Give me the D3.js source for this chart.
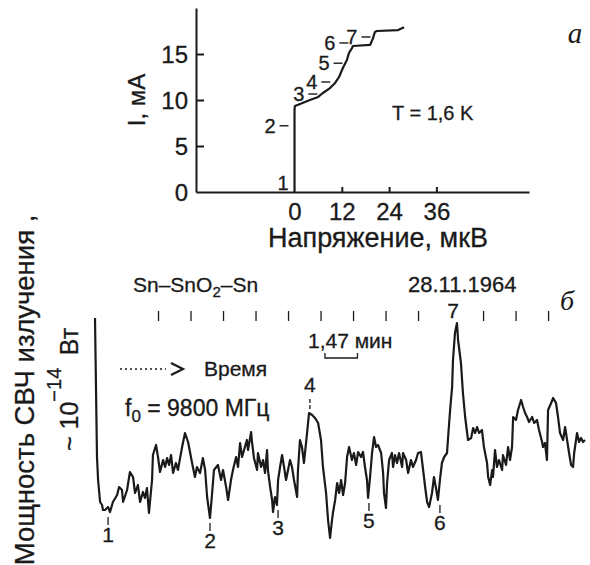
<!DOCTYPE html>
<html>
<head>
<meta charset="utf-8">
<script src="https://cdn.jsdelivr.net/npm/d3@7"></script>
<style>
  body { margin: 0; background: #fff; }
  svg { display: block; font-family: "Liberation Sans", Arial, Helvetica, sans-serif; }
  text { fill: #1a1a1a; stroke: #1a1a1a; stroke-width: 0.3px; }
</style>
</head>
<body>
<svg id="chart" width="590" height="565"></svg>
<script>
// ---- (a) current-voltage curve, T = 1.6 K
const ivVoltage = [0, 0, 0.1, 1.4, 3.9, 6.0, 7.2, 9.0, 10.3, 11.3, 12.3, 13.3, 13.8, 14.6, 14.8, 19.2, 19.9, 20.4, 20.9, 26.3, 27.8];
const ivCurrent = [0, 8.9, 9.35, 9.57, 10.0, 10.33, 10.76, 11.3, 11.85, 12.5, 13.5, 14.35, 15.1, 15.65, 15.87, 16.0, 16.7, 17.4, 17.5, 17.6, 17.9];
const ivTicksX = [0, 12, 24, 36];
const ivTicksY = [0, 5, 10, 15];
const ivLabels = ['1', '2', '3', '4', '5', '6', '7'];
const ivLabelVoltage = [0, 0, 7.3, 10.6, 13.7, 15.2, 20.8];
const ivLabelCurrent = [1.0, 7.2, 10.65, 11.96, 14.0, 16.2, 16.85];

// ---- (б) microwave power record, minutes vs 1e-14 W (arb.)
const traceTime = [
  0, 0.09, 0.14, 0.23, 0.32, 0.36, 0.45, 0.59, 0.68, 0.81,
  1.00, 1.09, 1.22, 1.27, 1.45, 1.58, 1.72, 1.81, 1.94, 2.04,
  2.17, 2.26, 2.35, 2.44, 2.58, 2.62, 2.76, 2.85, 2.94, 3.08,
  3.17, 3.26, 3.35, 3.44, 3.53, 3.66, 3.75, 3.94, 4.07, 4.21,
  4.39, 4.52, 4.61, 4.75, 4.88, 4.98, 5.07, 5.20, 5.29, 5.38,
  5.56, 5.70, 5.79, 5.93, 6.02, 6.15, 6.24, 6.38, 6.47, 6.56,
  6.65, 6.74, 6.87, 6.92, 7.06, 7.10, 7.19, 7.33, 7.37, 7.51,
  7.60, 7.69, 7.78, 7.82, 7.92, 8.01, 8.05, 8.14, 8.23, 8.28,
  8.37, 8.46, 8.55, 8.64, 8.73, 8.82, 8.91, 9.00, 9.14, 9.18,
  9.27, 9.36, 9.45, 9.59, 9.68, 9.82, 9.95, 10.09, 10.22, 10.31,
  10.45, 10.54, 10.63, 10.72, 10.76, 10.86, 10.95, 11.04, 11.13, 11.22,
  11.31, 11.40, 11.49, 11.62, 11.71, 11.81, 11.90, 12.03, 12.12, 12.21,
  12.30, 12.35, 12.44, 12.53, 12.62, 12.71, 12.80, 12.94, 13.03, 13.07,
  13.16, 13.21, 13.30, 13.43, 13.48, 13.57, 13.66, 13.75, 13.89, 13.93,
  14.07, 14.16, 14.29, 14.38, 14.52, 14.61, 14.74, 14.84, 14.93, 15.02,
  15.11, 15.24, 15.33, 15.42, 15.51, 15.60, 15.69, 15.79, 15.92, 15.97,
  16.06, 16.15, 16.19, 16.28, 16.37, 16.42, 16.55, 16.64, 16.74, 16.83,
  16.87, 17.01, 17.10, 17.19, 17.28, 17.37, 17.50, 17.59, 17.73, 17.78,
  17.87, 17.96, 18.00, 18.09, 18.18, 18.27, 18.41, 18.45, 18.59, 18.68,
  18.77, 18.86, 18.91, 19.04, 19.13, 19.27, 19.36, 19.45, 19.54, 19.63,
  19.77, 19.86, 19.99, 20.08, 20.22, 20.26, 20.35, 20.44, 20.49, 20.63,
  20.72, 20.85, 20.94, 21.03, 21.17, 21.26, 21.35, 21.44, 21.53, 21.62,
  21.67, 21.80, 21.89, 21.98, 22.07, 22.16,
];
const tracePower = [
  22.2, 8.3, 6.0, 3.8, 3.5, 3.0, 3.0, 3.3, 2.8, 3.8,
  4.5, 5.3, 5.0, 3.8, 5.0, 6.8, 6.3, 4.7, 5.5, 3.8,
  4.8, 4.2, 5.2, 2.7, 6.0, 8.5, 9.5, 8.3, 6.8, 8.0,
  7.3, 8.2, 7.5, 8.5, 6.7, 7.7, 7.0, 9.3, 10.7, 9.8,
  7.7, 6.3, 7.3, 6.7, 8.2, 7.0, 4.3, 2.2, 4.5, 7.0,
  7.5, 6.0, 7.0, 5.3, 4.0, 6.0, 7.0, 8.3, 7.3, 9.7,
  8.3, 9.0, 10.0, 9.0, 10.8, 9.8, 8.2, 7.0, 8.7, 7.3,
  8.0, 6.7, 9.0, 7.0, 5.3, 4.0, 2.8, 4.3, 3.5, 6.0,
  7.3, 8.5, 7.3, 6.0, 7.0, 8.0, 7.3, 6.0, 4.3, 7.0,
  10.0, 9.3, 7.7, 10.7, 12.7, 12.5, 12.2, 11.7, 10.0, 7.3,
  4.7, 2.0, 0.2, 2.0, 2.7, 4.0, 5.7, 4.7, 6.0, 4.5,
  5.7, 8.3, 9.3, 8.0, 8.7, 7.5, 8.8, 8.3, 8.8, 7.3,
  6.0, 4.2, 6.3, 8.7, 10.3, 9.3, 9.5, 8.7, 6.7, 4.7,
  3.2, 5.7, 8.0, 8.7, 7.3, 8.5, 7.7, 8.7, 7.3, 8.7,
  8.0, 6.7, 8.0, 7.3, 8.0, 8.7, 8.8, 7.0, 5.3, 3.8,
  3.3, 4.7, 6.3, 5.2, 4.0, 6.0, 7.7, 8.3, 8.7, 10.3,
  13.0, 15.3, 18.0, 20.7, 21.7, 20.0, 17.7, 14.7, 12.3, 10.7,
  10.0, 10.2, 11.2, 10.7, 11.3, 10.7, 11.0, 9.3, 7.7, 6.3,
  5.5, 7.0, 6.3, 9.0, 7.3, 8.0, 7.0, 8.5, 7.5, 9.3,
  8.0, 9.3, 12.3, 12.0, 13.0, 14.0, 13.3, 12.7, 12.3, 11.8,
  12.3, 11.7, 12.0, 11.0, 9.8, 9.3, 9.7, 8.0, 13.0, 13.7,
  14.2, 13.7, 12.3, 10.7, 10.0, 11.3, 10.0, 8.7, 7.5, 7.3,
  8.7, 10.7, 9.8, 10.2, 9.8, 10.0,
];
const markerLabels = ['1', '2', '3', '4', '5', '6', '7'];
const markerTimes = [0.59, 5.20, 8.28, 9.72, 12.39, 15.60, 16.19];
const markerSide = ['down', 'down', 'down', 'up', 'down', 'down', 'row'];
const clockStart = 2.85;   // first time mark, min
const clockStep = 1.47;    // min between marks
const clockCount = 13;
const scaleBarStart = 10.4;

const svg = d3.select('#chart');
const ink = '#1a1a1a';

function addText(parent, x, y, str, size, anchor = 'start') {
  return parent.append('text')
    .attr('x', x).attr('y', y)
    .attr('font-size', size)
    .attr('text-anchor', anchor)
    .text(str);
}

// ================= panel a =================
const xIV = d3.scaleLinear().domain([-25, 59.5]).range([196, 529]);
const yIV = d3.scaleLinear().domain([0, 20]).range([192, 8]);

const gA = svg.append('g');

const axY = gA.append('g')
  .attr('transform', `translate(${xIV(-25)},0)`)
  .call(d3.axisLeft(yIV).tickValues(ivTicksY).tickSizeInner(-8).tickSizeOuter(0).tickPadding(8));
const axX = gA.append('g')
  .attr('transform', `translate(0,${yIV(0)})`)
  .call(d3.axisBottom(xIV).tickValues(ivTicksX).tickSizeInner(-5).tickSizeOuter(0).tickPadding(11));
[axY, axX].forEach((ax) => {
  ax.selectAll('path,line').attr('stroke', ink).attr('stroke-width', 2);
  ax.selectAll('text').attr('font-size', 24).attr('fill', ink)
    .style('font-family', '"Liberation Sans", Arial, sans-serif');
});
axY.selectAll('.tick').filter((d) => d === 0).select('line').remove();
axX.selectAll('.tick').filter((d) => d === 0).select('line').remove();
axY.selectAll('text').attr('dy', '0.36em');

const ivPoints = ivVoltage.map((v, i) => [v, ivCurrent[i]]);
gA.append('path')
  .datum(ivPoints)
  .attr('fill', 'none')
  .attr('stroke', ink)
  .attr('stroke-width', 2.2)
  .attr('stroke-linejoin', 'round')
  .attr('d', d3.line().x((d) => xIV(d[0])).y((d) => yIV(d[1])));

// step numbers with short leader dashes
ivLabels.forEach((lab, i) => {
  const x = xIV(ivLabelVoltage[i]);
  const y = yIV(ivLabelCurrent[i]);
  if (i === 0) {
    addText(gA, x - 6, y + 7, lab, 20, 'end');
    return;
  }
  gA.append('line')
    .attr('x1', x - 15).attr('x2', x - 6).attr('y1', y).attr('y2', y)
    .attr('stroke', ink).attr('stroke-width', 1.4);
  addText(gA, x - 19, y + 7, lab, 20, 'end');
});

addText(gA, 392, 120, 'T = 1,6 K', 20);
addText(gA, 378, 247, 'Напряжение, мкВ', 27, 'middle');
gA.append('text')
  .attr('transform', 'translate(145,100) rotate(-90)')
  .attr('text-anchor', 'middle')
  .attr('font-size', 24)
  .text('I, мА');
addText(gA, 575, 43, 'a', 29, 'middle')
  .style('font-family', '"Liberation Serif", "Times New Roman", serif')
  .style('font-style', 'italic')
  .style('stroke-width', 0);

// ================= panel б =================
const xT = d3.scaleLinear().domain([0, 22.16]).range([95, 585]);
const yT = d3.scaleLinear().domain([0, 22.2]).range([540, 318]);

const gB = svg.append('g');

// time marks along the top
const clockTicks = d3.range(clockCount)
  .map((i) => clockStart + i * clockStep)
  .filter((d, i) => i !== 9);
const axTop = gB.append('g')
  .attr('transform', 'translate(0,321)')
  .call(d3.axisTop(xT).tickValues(clockTicks).tickSize(10).tickFormat(''));
axTop.select('.domain').remove();
axTop.selectAll('line').attr('stroke', ink).attr('stroke-width', 1.3);

// scale bar "1,47 мин"
const bx0 = xT(scaleBarStart);
const bx1 = xT(scaleBarStart + clockStep);
gB.append('path')
  .attr('d', `M${bx0},353V358H${bx1}V353`)
  .attr('fill', 'none')
  .attr('stroke', ink)
  .attr('stroke-width', 1.3);
addText(gB, bx0 - 17, 348, '1,47 мин', 21);

// trace
const tracePoints = traceTime.map((t, i) => [t, tracePower[i]]);
gB.append('path')
  .datum(tracePoints)
  .attr('fill', 'none')
  .attr('stroke', ink)
  .attr('stroke-width', 2.2)
  .attr('stroke-linejoin', 'round')
  .attr('d', d3.line().x((d) => xT(d[0])).y((d) => yT(d[1])));

// numbered markers
markerLabels.forEach((lab, i) => {
  const t = markerTimes[i];
  const near = tracePoints.filter((d) => Math.abs(d[0] - t) <= 0.15);
  const x = xT(t);
  if (markerSide[i] === 'down') {
    const y = yT(d3.min(near, (d) => d[1]));
    gB.append('line').attr('x1', x).attr('x2', x).attr('y1', y + 5).attr('y2', y + 13)
      .attr('stroke', ink).attr('stroke-width', 1.3);
    addText(gB, x, y + 30, lab, 21, 'middle');
  } else if (markerSide[i] === 'up') {
    const y = yT(d3.max(near, (d) => d[1]));
    gB.append('line').attr('x1', x).attr('x2', x).attr('y1', y - 14).attr('y2', y - 3)
      .attr('stroke', ink).attr('stroke-width', 1.3).attr('stroke-dasharray', '4,2');
    addText(gB, x, y - 21, lab, 21, 'middle');
  } else {
    addText(gB, x, 318, lab, 21, 'middle');
  }
});

// headings
const sample = addText(gB, 133, 292, 'Sn–SnO', 21);
sample.append('tspan').attr('font-size', 15).attr('dy', 5).text('2');
sample.append('tspan').attr('dy', -5).text('–Sn');
addText(gB, 408, 292, '28.11.1964', 22);
addText(gB, 567, 310, 'б', 28, 'middle')
  .style('font-family', '"Liberation Serif", "Times New Roman", serif')
  .style('font-style', 'italic')
  .style('stroke-width', 0);

// time direction arrow
gB.append('line').attr('x1', 120).attr('x2', 166).attr('y1', 369).attr('y2', 369)
  .attr('stroke', ink).attr('stroke-width', 1.3).attr('stroke-dasharray', '2,3');
gB.append('path').attr('d', 'M171,363L183,369L171,375')
  .attr('fill', 'none').attr('stroke', ink).attr('stroke-width', 2.2);
addText(gB, 204, 376, 'Время', 21);

const freq = addText(gB, 125, 416, 'f', 23);
freq.append('tspan').attr('font-size', 17).attr('dy', 6).text('0');
freq.append('tspan').attr('dy', -6).text(' = 9800 МГц');

// vertical labels
gB.append('text')
  .attr('transform', 'translate(34,390) rotate(-90)')
  .attr('text-anchor', 'middle')
  .attr('font-size', 27.5)
  .text('Мощность СВЧ излучения ,');
const unit = gB.append('text')
  .attr('transform', 'translate(78,451) rotate(-90)')
  .attr('font-size', 25)
  .text('~\u00A010');
unit.append('tspan').attr('font-size', 20).attr('dy', -17).text('\u221214');
unit.append('tspan').attr('dy', 17).text('\u2002Вт');
</script>
</body>
</html>
